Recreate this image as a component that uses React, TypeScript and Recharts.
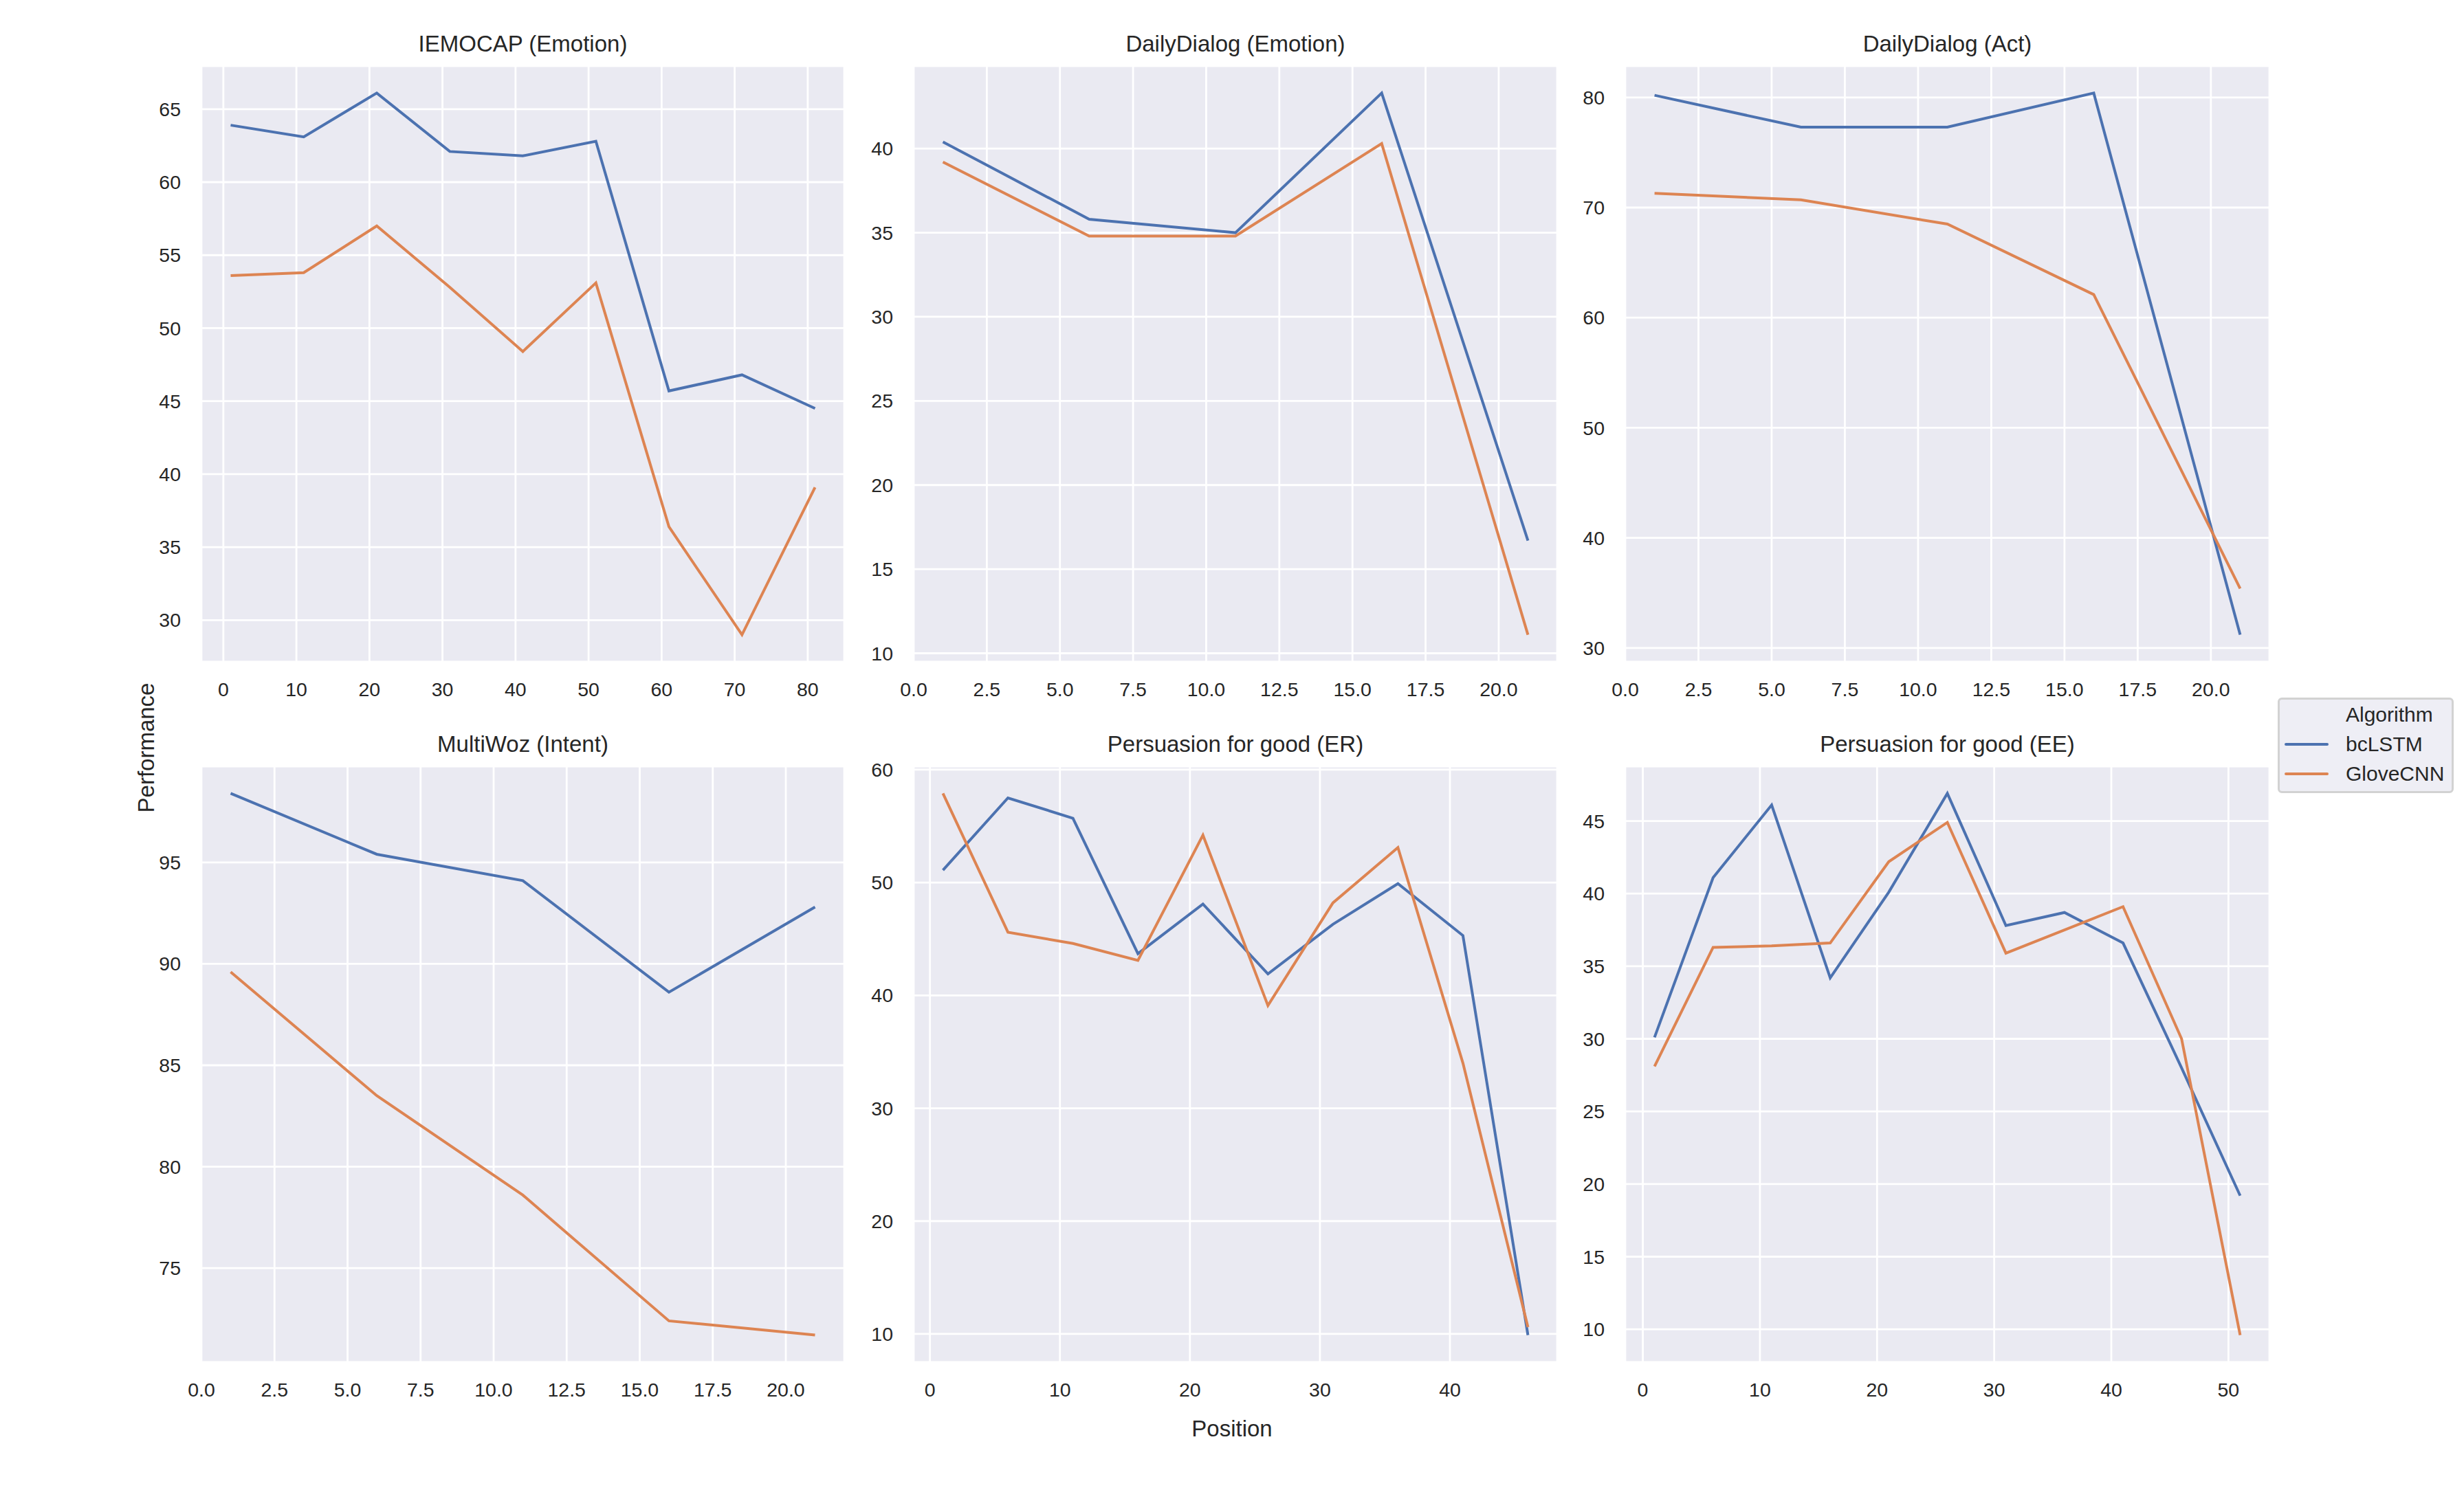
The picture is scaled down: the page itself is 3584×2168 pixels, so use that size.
import { LineChart, Line, XAxis, YAxis, CartesianGrid, Legend } from 'recharts'

// seaborn "deep" palette + darkgrid look
const FONT = '"Liberation Sans", Arial, Helvetica, sans-serif'
const INK = '#262626'
const BLUE = '#4C72B0'
const ORANGE = '#DD8452'
const PANEL_BG = '#EAEAF2'

// ---- data ----
const seriesNames = ['bcLSTM', 'GloveCNN']

const iemocapPos = [1, 11, 21, 31, 41, 51, 61, 71, 81]
const iemocapLstm = [63.9, 63.1, 66.1, 62.1, 61.8, 62.8, 45.7, 46.8, 44.5]
const iemocapCnn = [53.6, 53.8, 57.0, 52.8, 48.4, 53.1, 36.4, 29.0, 39.1]

const ddEmoPos = [1, 6, 11, 16, 21]
const ddEmoLstm = [40.4, 35.8, 35.0, 43.3, 16.7]
const ddEmoCnn = [39.2, 34.8, 34.8, 40.3, 11.1]

const ddActPos = [1, 6, 11, 16, 21]
const ddActLstm = [80.2, 77.3, 77.3, 80.4, 31.2]
const ddActCnn = [71.3, 70.7, 68.5, 62.1, 35.4]

const mwPos = [1, 6, 11, 16, 21]
const mwLstm = [98.4, 95.4, 94.1, 88.6, 92.8]
const mwCnn = [89.6, 83.5, 78.6, 72.4, 71.7]

const erPos = [1, 6, 11, 16, 21, 26, 31, 36, 41, 46]
const erLstm = [51.1, 57.5, 55.7, 43.7, 48.1, 41.9, 46.3, 49.9, 45.3, 9.9]
const erCnn = [57.9, 45.6, 44.6, 43.1, 54.2, 39.1, 48.2, 53.1, 34.0, 10.6]

const eePos = [1, 6, 11, 16, 21, 26, 31, 36, 41, 46, 51]
const eeLstm = [30.1, 41.1, 46.1, 34.2, 40.1, 46.9, 37.8, 38.7, 36.6, 28.0, 19.2]
const eeCnn = [28.1, 36.3, 36.4, 36.6, 42.2, 44.9, 35.9, 37.5, 39.1, 30.0, 9.6]

// tick labels
const ticksTens80 = [0, 10, 20, 30, 40, 50, 60, 70, 80]
const ticksTens40 = [0, 10, 20, 30, 40]
const ticksTens50 = [0, 10, 20, 30, 40, 50]
const ticksHalf20 = [0, 2.5, 5, 7.5, 10, 12.5, 15, 17.5, 20]
const yIemocap = [30, 35, 40, 45, 50, 55, 60, 65]
const yDdEmo = [10, 15, 20, 25, 30, 35, 40]
const yDdAct = [30, 40, 50, 60, 70, 80]
const yMw = [75, 80, 85, 90, 95]
const yEr = [10, 20, 30, 40, 50, 60]
const yEe = [10, 15, 20, 25, 30, 35, 40, 45]

const panels = [
  { title: 'IEMOCAP (Emotion)', pos: iemocapPos, lstm: iemocapLstm, cnn: iemocapCnn, xTicks: ticksTens80, yTicks: yIemocap, dec: false },
  { title: 'DailyDialog (Emotion)', pos: ddEmoPos, lstm: ddEmoLstm, cnn: ddEmoCnn, xTicks: ticksHalf20, yTicks: yDdEmo, dec: true },
  { title: 'DailyDialog (Act)', pos: ddActPos, lstm: ddActLstm, cnn: ddActCnn, xTicks: ticksHalf20, yTicks: yDdAct, dec: true },
  { title: 'MultiWoz (Intent)', pos: mwPos, lstm: mwLstm, cnn: mwCnn, xTicks: ticksHalf20, yTicks: yMw, dec: true },
  { title: 'Persuasion for good (ER)', pos: erPos, lstm: erLstm, cnn: erCnn, xTicks: ticksTens40, yTicks: yEr, dec: false },
  { title: 'Persuasion for good (EE)', pos: eePos, lstm: eeLstm, cnn: eeCnn, xTicks: ticksTens50, yTicks: yEe, dec: false },
]

// ---- layout (page pixels) ----
const COL_LEFT = [293, 1329, 2364]
const COL_W = [935, 936, 937]
const ROW_TOP = [96, 1115]
const PLOT_H = 867
const Y_W = 120
const TOP_M = 100
const X_H = 80

// matplotlib-style 5% margin around the data
function padded(vals: number[]): [number, number] {
  const lo = Math.min(...vals)
  const hi = Math.max(...vals)
  const d = (hi - lo) * 0.05
  return [lo - d, hi + d]
}

const tickStyle = { fill: INK, fontSize: 28.5, fontFamily: FONT }

function LegendBox({ payload }: any) {
  // keep the plotting order, not recharts' alphabetical one
  const items = [...(payload || [])].sort(
    (a: any, b: any) => seriesNames.indexOf(a.value) - seriesNames.indexOf(b.value),
  )
  return (
    <div
      style={{
        boxSizing: 'border-box', width: 256, height: 139,
        background: '#EEEEF5', border: '3px solid #D2D2D2', borderRadius: 6,
        fontFamily: FONT, fontSize: 30, color: INK, lineHeight: '43px',
      }}
    >
      <div style={{ paddingLeft: 96 }}>Algorithm</div>
      {items.map((e: any) => (
        <div key={e.value} style={{ display: 'flex', alignItems: 'center', height: 43 }}>
          <span style={{ marginLeft: 7, width: 64, height: 4, background: e.color, borderRadius: 2 }} />
          <span style={{ marginLeft: 25 }}>{e.value}</span>
        </div>
      ))}
    </div>
  )
}

function Panel({ idx }: { idx: number }) {
  const p = panels[idx]
  const col = idx % 3
  const row = Math.floor(idx / 3)
  const left = COL_LEFT[col]
  const top = ROW_TOP[row]
  const w = COL_W[col]
  const withLegend = idx === 5
  const right = withLegend ? 280 : 20
  const chartLeft = left - Y_W
  const chartTop = top - TOP_M
  const data = p.pos.map((x, i) => ({ x, lstm: p.lstm[i], cnn: p.cnn[i] }))

  return (
    <>
      <div
        style={{
          position: 'absolute', left, top: top - 52, width: w,
          textAlign: 'center', fontSize: 33, lineHeight: '40px', color: INK,
        }}
      >
        {p.title}
      </div>
      <div style={{ position: 'absolute', left: chartLeft, top: chartTop }}>
        <LineChart
          width={Y_W + w + right}
          height={TOP_M + PLOT_H + X_H}
          data={data}
          margin={{ top: TOP_M, right, bottom: 0, left: 0 }}
        >
          <CartesianGrid fill={PANEL_BG} fillOpacity={1} stroke="#ffffff" strokeWidth={2.8} />
          <XAxis
            type="number"
            dataKey="x"
            domain={padded(p.pos)}
            ticks={p.xTicks}
            interval={0}
            allowDataOverflow
            axisLine={false}
            tickLine={false}
            tickSize={0}
            tickMargin={30}
            height={X_H}
            tick={tickStyle}
            tickFormatter={(v: number) => (p.dec ? v.toFixed(1) : String(v))}
          />
          <YAxis
            type="number"
            domain={padded([...p.lstm, ...p.cnn])}
            ticks={p.yTicks}
            interval={0}
            allowDataOverflow
            axisLine={false}
            tickLine={false}
            tickSize={0}
            tickMargin={30}
            width={Y_W}
            tick={tickStyle}
          />
          <Line type="linear" dataKey="lstm" name={seriesNames[0]} stroke={BLUE} strokeWidth={4} dot={false} isAnimationActive={false} />
          <Line type="linear" dataKey="cnn" name={seriesNames[1]} stroke={ORANGE} strokeWidth={4} dot={false} isAnimationActive={false} />
          {withLegend && (
            <Legend
              layout="vertical"
              align="center"
              verticalAlign="middle"
              content={(props: any) => <LegendBox {...props} />}
              wrapperStyle={{ position: 'absolute', left: 3313 - chartLeft, top: 1015 - chartTop, width: 256, height: 139 }}
            />
          )}
        </LineChart>
      </div>
    </>
  )
}

export default function App() {
  return (
    <div
      style={{
        position: 'absolute', left: 0, top: 0, width: 3584, height: 2168,
        background: '#ffffff', overflow: 'hidden', fontFamily: FONT, color: INK,
      }}
    >
      {panels.map((_, i) => <Panel key={i} idx={i} />)}
      <div
        style={{
          position: 'absolute', left: 213, top: 1088, fontSize: 33, whiteSpace: 'nowrap',
          transform: 'translate(-50%, -50%) rotate(-90deg)',
        }}
      >
        Performance
      </div>
      <div
        style={{
          position: 'absolute', left: 1792, top: 2079, fontSize: 33, whiteSpace: 'nowrap',
          transform: 'translate(-50%, -50%)',
        }}
      >
        Position
      </div>
    </div>
  )
}
